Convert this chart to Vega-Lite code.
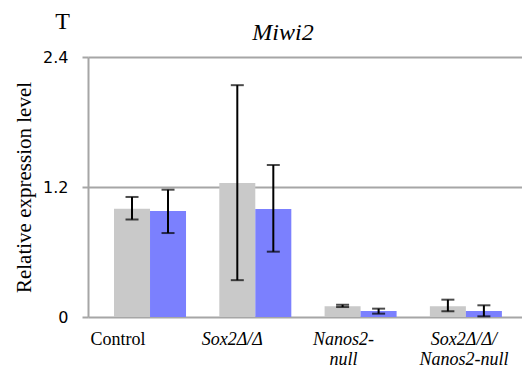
{
  "$schema": "https://vega.github.io/schema/vega-lite/v6.json",
  "width": 434,
  "height": 260,
  "autosize": {"type": "none"},
  "padding": {"left": 88, "top": 57, "right": 0, "bottom": 59},
  "background": "white",
  "title": {"text": "Miwi2", "font": "Liberation Serif", "fontSize": 24, "fontStyle": "italic", "fontWeight": "normal", "color": "black", "anchor": "middle", "dx": -22, "offset": 0, "dy": 36},
  "config": {"view": {"stroke": null}, "font": "Liberation Serif"},
  "data": {"values": [
    {"group": "Control", "series": "Series 1", "value": 1.0, "lo": 0.9, "hi": 1.108},
    {"group": "Control", "series": "Series 2", "value": 0.978, "lo": 0.775, "hi": 1.175},
    {"group": "Sox2", "series": "Series 1", "value": 1.237, "lo": 0.34, "hi": 2.14},
    {"group": "Sox2", "series": "Series 2", "value": 0.997, "lo": 0.603, "hi": 1.403},
    {"group": "Nanos2-null", "series": "Series 1", "value": 0.1, "lo": 0.092, "hi": 0.113},
    {"group": "Nanos2-null", "series": "Series 2", "value": 0.055, "lo": 0.031, "hi": 0.077},
    {"group": "Sox2/Nanos2-null", "series": "Series 1", "value": 0.1, "lo": 0.053, "hi": 0.16},
    {"group": "Sox2/Nanos2-null", "series": "Series 2", "value": 0.055, "lo": 0.006, "hi": 0.108}
  ]},
  "encoding": {
    "x": {"field": "group", "type": "nominal", "sort": null,
      "scale": {"paddingInner": 0.316, "paddingOuter": 0.219, "align": 0.564},
      "axis": {"title": "T", "titleX": -26, "titleY": -308, "titleFont": "Liberation Serif", "titleFontSize": 24, "titleFontWeight": "normal", "titleColor": "black", "titleAngle": 0,
        "domain": false, "ticks": false, "labelAngle": 0, "labelPadding": 13,
        "labelFont": "Liberation Serif", "labelFontSize": 18, "labelColor": "black", "labelLineHeight": 20, "labelBaseline": "top",
        "labelFontStyle": {"condition": {"test": "datum.value == 'Control'", "value": "normal"}, "value": "italic"},
        "labelOffset": {"expr": "datum.value == 'Control' ? -32 : datum.value == 'Sox2' ? -23 : datum.value == 'Nanos2-null' ? -17 : -2"},
        "labelExpr": "datum.value == 'Sox2' ? 'Sox2Δ/Δ' : datum.value == 'Nanos2-null' ? ['Nanos2-', 'null'] : datum.value == 'Sox2/Nanos2-null' ? ['Sox2Δ/Δ/', 'Nanos2-null'] : datum.value"}
    },
    "xOffset": {"field": "series", "type": "nominal", "scale": {"paddingInner": 0, "paddingOuter": 0}}
  },
  "layer": [
    {
      "mark": {"type": "bar"},
      "encoding": {
        "y": {"field": "value", "type": "quantitative",
          "scale": {"domain": [0, 2.4], "nice": false, "zero": true},
          "axis": {"values": [0, 1.2, 2.4], "format": ".1~f", "title": "Relative expression level",
            "titleFont": "Liberation Serif", "titleFontSize": 21, "titleFontWeight": "normal", "titleColor": "black", "titlePadding": 8,
            "labelFont": "DejaVu Sans", "labelFontSize": 16, "labelColor": "black", "labelPadding": 14,
            "grid": true, "gridColor": "#a6a6a6", "gridWidth": 2,
            "ticks": true, "tickSize": 6, "tickColor": "#a6a6a6", "tickWidth": 2,
            "domain": true, "domainColor": "#a6a6a6", "domainWidth": 2}},
        "color": {"field": "series", "type": "nominal", "scale": {"range": ["#c9c9c9", "#7b80fe"]}, "legend": null}
      }
    },
    {
      "mark": {"type": "rule", "color": "black", "strokeWidth": 2},
      "encoding": {"y": {"field": "lo", "type": "quantitative"}, "y2": {"field": "hi"}}
    },
    {
      "mark": {"type": "tick", "color": "black", "size": 13, "thickness": 2},
      "encoding": {"y": {"field": "lo", "type": "quantitative"}}
    },
    {
      "mark": {"type": "tick", "color": "black", "size": 13, "thickness": 2},
      "encoding": {"y": {"field": "hi", "type": "quantitative"}}
    }
  ]
}
